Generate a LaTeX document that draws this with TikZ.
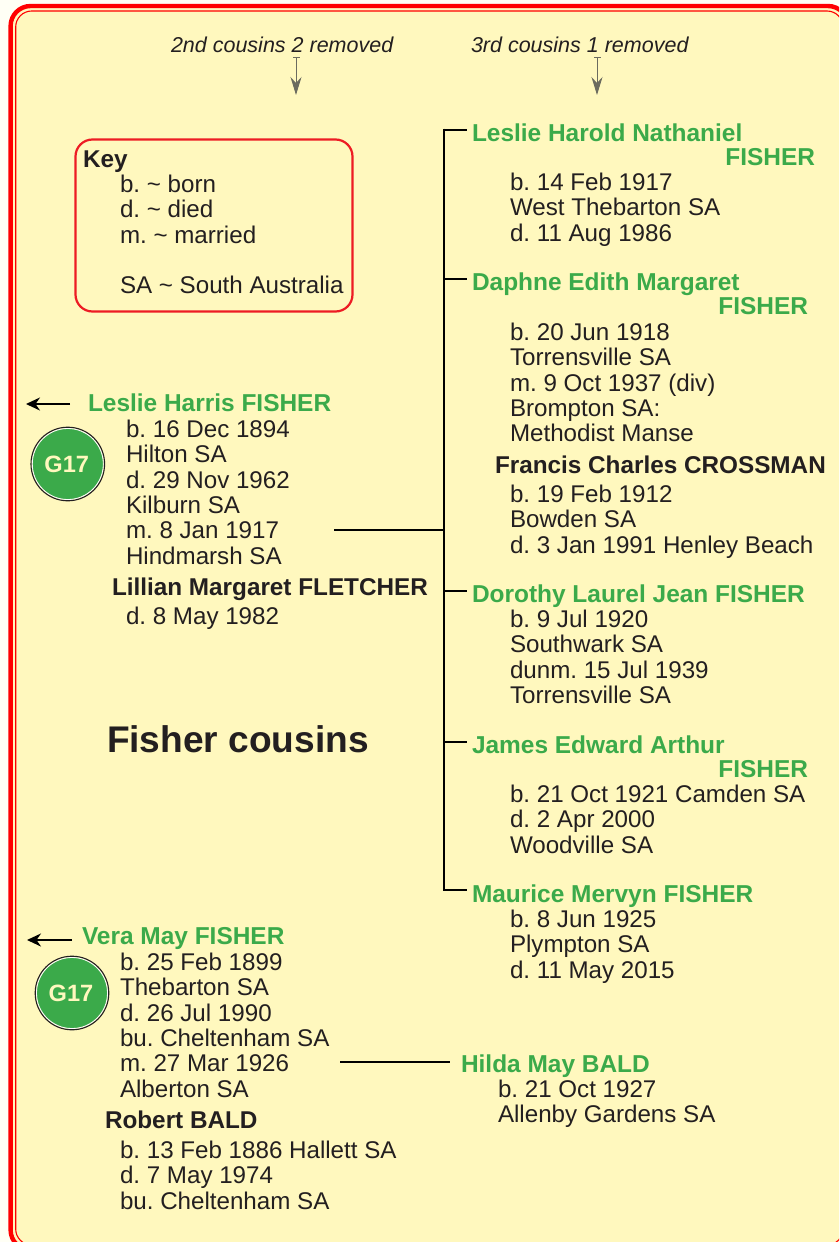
\documentclass[tikz,border=0pt]{standalone}
\usepackage{fontspec}
\setmainfont{Liberation Sans}
\usetikzlibrary{arrows.meta,calc}
\frenchspacing
\definecolor{cream}{HTML}{FFF8BE}
\definecolor{paper}{HTML}{FFFFF5}
\definecolor{frame}{HTML}{FF0000}
\definecolor{keyred}{HTML}{ED1C24}
\definecolor{gengreen}{HTML}{3BAA4A}
\definecolor{ink}{HTML}{231F20}
\definecolor{greyarrow}{HTML}{6B6B5F}
\newcommand{\bodyfont}{\fontsize{24.15pt}{25.3pt}\selectfont}
\newcommand{\capfont}{\fontsize{21.5pt}{24pt}\selectfont\itshape}
\tikzset{
  txt/.style={inner sep=0pt,outer sep=0pt,align=left,text=ink,font=\bodyfont\frenchspacing},
  greenname/.style={txt,text=gengreen,font=\fontsize{24.45pt}{25.3pt}\selectfont\bfseries},
  inkname/.style={txt,font=\fontsize{24.3pt}{25.3pt}\selectfont\bfseries},
  linkline/.style={draw=black,line width=2.9pt},
  backarrow/.style={draw=black,line width=2.2pt,-{Stealth[length=14pt,width=13pt]}},
  downarrow/.style={draw=greyarrow,line width=1pt,-{Stealth[length=18pt,width=11pt,inset=6pt]}},
  badge/.style={circle,minimum size=71pt,inner sep=0pt,fill=gengreen,draw=white,line width=.8pt,text=cream,font=\fontsize{23.6pt}{24pt}\selectfont\bfseries},
}
% block: name, x, baseline of first line (px), lines
\newcommand{\blk}[5][txt]{\node[#1,anchor=north west] (#2) at (#3,#4-17) {\rule{0pt}{17pt}#5};}
\newcommand{\blkr}[5][greenname]{\node[#1,anchor=north east] (#2) at (#3,#4-17) {\rule{0pt}{17pt}#5};}
\begin{document}
\begin{tikzpicture}[x=1pt,y=-1pt]
\useasboundingbox (0,0) rectangle (839,1242);
\clip (0,0) rectangle (839,1242);
\fill[paper] (0,0) rectangle (839,1242);
\draw[frame,fill=cream,line width=4.4pt,rounded corners=20pt] (10.6,6) rectangle (848,1250);
\draw[frame,line width=1.1pt,rounded corners=16pt] (15.7,11) rectangle (843,1245);

\node[txt,font=\capfont,anchor=base west] (capA) at (171,52) {2nd cousins 2 removed};
\node[txt,font=\capfont,anchor=base west] (capB) at (471,52) {3rd cousins 1 removed};
\coordinate (capAend) at (296,95);
\coordinate (capBend) at (597,95);
\draw[downarrow] (capAend |- 0,57) -- (capAend);
\draw[downarrow] (capBend |- 0,57) -- (capBend);
\draw[greyarrow,line width=.8pt] (293,57.5) -- (300,57.5) (594,57.5) -- (601,57.5);

\node[draw=keyred,line width=2.2pt,rounded corners=17pt,minimum width=277pt,minimum height=172pt,anchor=north west,outer sep=0pt] (key) at (75.5,139.5) {};
\blk[inkname]{keyhead}{83}{167}{Key}
\blk{keylist}{120}{192}{b. \textasciitilde{} born\\d. \textasciitilde{} died\\m. \textasciitilde{} married\\[25.3pt]SA \textasciitilde{} South Australia}

\blk[greenname]{lhn}{472}{141}{Leslie Harold Nathaniel}
\blkr{lhnb}{815}{165}{FISHER}
\blk{lhnd}{510}{190}{b. 14 Feb 1917\\West Thebarton SA\\d. 11 Aug 1986}

\blk[greenname]{dem}{472}{290}{Daphne Edith Margaret}
\blkr{demb}{808}{314}{FISHER}
\blk{demd}{510}{340}{b. 20 Jun 1918\\Torrensville SA\\m. 9 Oct 1937 (div)\\Brompton SA:\\Methodist Manse}
\blk[inkname]{fcc}{495}{473}{Francis Charles CROSSMAN}
\blk{fccd}{510}{502}{b. 19 Feb 1912\\Bowden SA\\d. 3 Jan 1991 Henley Beach}

\blk[greenname]{dlj}{472}{602}{Dorothy Laurel Jean FISHER}
\blk{dljd}{510}{627}{b. 9 Jul 1920\\Southwark SA\\dunm. 15 Jul 1939\\Torrensville SA}

\blk[greenname]{jea}{472}{753}{James Edward Arthur}
\blkr{jeab}{808}{777}{FISHER}
\blk{jead}{510}{802}{b. 21 Oct 1921 Camden SA\\d. 2 Apr 2000\\Woodville SA}

\blk[greenname]{mmf}{472}{902}{Maurice Mervyn FISHER}
\blk{mmfd}{510}{927}{b. 8 Jun 1925\\Plympton SA\\d. 11 May 2015}

\blk[greenname]{hmb}{461}{1072}{Hilda May BALD}
\blk{hmbd}{498}{1097}{b. 21 Oct 1927\\Allenby Gardens SA}

\blk[greenname]{lhf}{88}{411}{Leslie Harris FISHER}
\blk{lhfd}{126}{437}{b. 16 Dec 1894\\Hilton SA\\d. 29 Nov 1962\\Kilburn SA\\m. 8 Jan 1917\\Hindmarsh SA}
\blk[inkname]{lmf}{112}{595}{Lillian Margaret FLETCHER}
\blk{lmfd}{126}{624}{d. 8 May 1982}

\node[txt,font=\fontsize{37.1pt}{40pt}\selectfont\bfseries,anchor=base west] (title) at (107,752) {Fisher cousins};

\blk[greenname]{vmf}{82}{944}{Vera May FISHER}
\blk{vmfd}{120}{970}{b. 25 Feb 1899\\Thebarton SA\\d. 26 Jul 1990\\bu. Cheltenham SA\\m. 27 Mar 1926\\Alberton SA}
\blk[inkname]{rb}{105}{1128}{Robert BALD}
\blk{rbd}{120}{1158}{b. 13 Feb 1886 Hallett SA\\d. 7 May 1974\\bu. Cheltenham SA}

\node[badge] (g1) at (67.8,464) {\hspace{-2pt}G17};
\node[badge] (g2) at (72,993) {\hspace{-2pt}G17};
\draw[ink,line width=1.1pt] (g1) circle (36.8pt);
\draw[ink,line width=1.1pt] (g2) circle (36.8pt);

\coordinate (larrow) at (26,404);
\coordinate (varrow) at (27,940);
\draw[backarrow] (lhf.west |- larrow) ++(-18,0) coordinate (lstart) (lstart) -- (larrow);
\draw[backarrow] (vmf.west |- varrow) ++(-10,0) coordinate (vstart) (vstart) -- (varrow);

\coordinate (t1) at (444,130);
\coordinate (t2) at (444,279);
\coordinate (t3) at (444,591);
\coordinate (t4) at (444,742);
\coordinate (t5) at (444,890);
\coordinate (tm) at (444,530);
\coordinate (ls) at (334,530);
\coordinate (vs) at (340,1062);
\draw[linkline,line cap=butt] (t1) ++(0,-1.45) -- ($(t5)+(0,1.45)$);
\draw[linkline,shorten >=5pt] (t1) -- (t1 -| lhn.west);
\draw[linkline,shorten >=5pt] (t2) -- (t2 -| dem.west);
\draw[linkline,shorten >=5pt] (t3) -- (t3 -| dlj.west);
\draw[linkline,shorten >=5pt] (t4) -- (t4 -| jea.west);
\draw[linkline,shorten >=5pt] (t5) -- (t5 -| mmf.west);
\draw[linkline] (ls) -- (tm);
\draw[linkline,shorten >=11pt] (vs) -- (vs -| hmb.west);
\end{tikzpicture}
\end{document}
